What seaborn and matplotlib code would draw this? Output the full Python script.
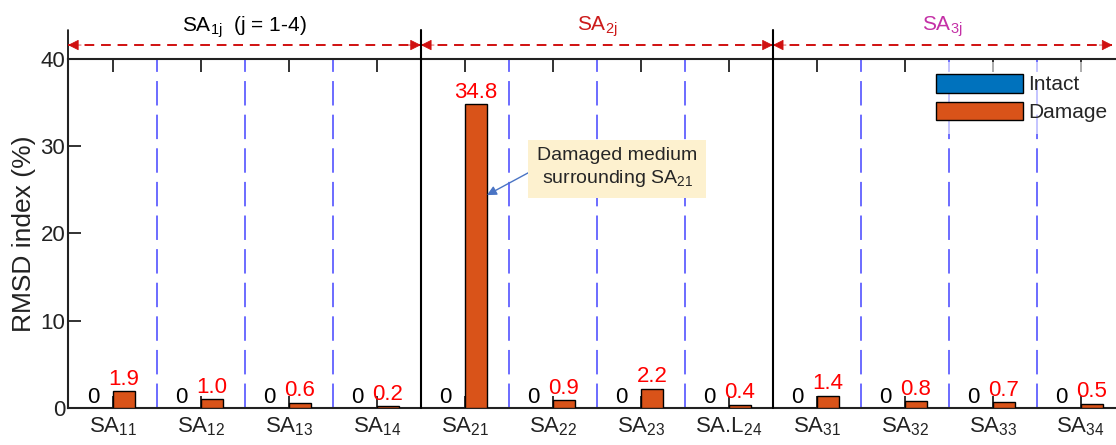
import numpy as np
import pandas as pd
import matplotlib
matplotlib.use("Agg")
import matplotlib.pyplot as plt
import matplotlib.transforms as mtransforms
import seaborn as sns

# ---- data ----
sensors = ["SA11", "SA12", "SA13", "SA14", "SA21", "SA22", "SA23", "SA.L24",
           "SA31", "SA32", "SA33", "SA34"]
tick_labels = [r"SA$_{11}$", r"SA$_{12}$", r"SA$_{13}$", r"SA$_{14}$",
               r"SA$_{21}$", r"SA$_{22}$", r"SA$_{23}$", r"SA.L$_{24}$",
               r"SA$_{31}$", r"SA$_{32}$", r"SA$_{33}$", r"SA$_{34}$"]
intact = [0, 0, 0, 0, 0, 0, 0, 0, 0, 0, 0, 0]
damage = [1.9, 1.0, 0.6, 0.2, 34.8, 0.9, 2.2, 0.4, 1.4, 0.8, 0.7, 0.5]
states = ["Intact", "Damage"]
group_titles = [r"SA$_{\rm 1j}$  (j = 1-4)", r"SA$_{\rm 2j}$", r"SA$_{\rm 3j}$"]
group_colors = ["black", "#cc1a1a", "#c430a6"]
group_sizes = [4, 4, 4]

df = pd.DataFrame({
    "sensor": sensors * 2,
    "state": [states[0]] * len(sensors) + [states[1]] * len(sensors),
    "value": intact + damage,
})

sns.set_theme(style="white")
plt.rcParams["font.family"] = ["Liberation Sans", "DejaVu Sans"]
plt.rcParams["mathtext.fontset"] = "custom"
plt.rcParams["mathtext.rm"] = "Liberation Sans"
plt.rcParams["mathtext.it"] = "Liberation Sans:italic"

fig = plt.figure(figsize=(11.16, 4.45), dpi=100)
ax = fig.add_axes([68 / 1116, 1 - 408 / 445, 1 - 68 / 1116, (408 - 59) / 445])

sns.barplot(data=df, x="sensor", y="value", hue="state", order=sensors,
            hue_order=states, palette=["#0072BD", "#D95319"], saturation=1,
            width=0.5, edgecolor="black", linewidth=1, ax=ax, zorder=3)

ax.set_xlim(-0.511, 11.40)
ax.set_ylim(0, 40)
ax.set_yticks([0, 10, 20, 30, 40])
ax.set_xticks(range(len(sensors)))
ax.set_xticklabels(tick_labels, fontsize=16)
ax.tick_params(axis="y", labelsize=16, direction="in", length=9, width=1.3,
               left=True, pad=2, colors="#222222")
ax.tick_params(axis="x", direction="in", length=9, width=1.3, top=True,
               bottom=True, pad=5, colors="#222222")
ax.set_xlabel("")
ax.set_ylabel("RMSD index (%)", fontsize=19, labelpad=3, color="#222222")
for s in ["left", "bottom", "top"]:
    ax.spines[s].set_linewidth(1.5)
    ax.spines[s].set_color("#222222")
ax.spines["right"].set_visible(False)

# value labels
zero_labels = ax.bar_label(ax.containers[0], labels=["0" for _ in intact],
                           fontsize=16, color="black", padding=0)
for t in zero_labels:
    t.xyann = (-6, 0)
ax.bar_label(ax.containers[1], fmt="%.1f", fontsize=16, color="#ff0000",
             padding=1)

# separators
n = len(sensors)
bounds = np.cumsum(group_sizes)[:-1] - 0.5
for k in range(n - 1):
    xb = k + 0.5
    if xb in bounds:
        ax.axvline(xb, ymin=0, ymax=1.083, color="black", lw=1.5,
                   clip_on=False, zorder=4)
    else:
        ax.axvline(xb, color="#4444ff", lw=1.1, ls=(0, (16, 6)), zorder=1)
ax.axvline(ax.get_xlim()[0], ymin=1.0, ymax=1.083, color="black", lw=1.2,
           clip_on=False)

# header arrows
trans = mtransforms.blended_transform_factory(ax.transData, ax.transAxes)
edges = [ax.get_xlim()[0]] + list(bounds) + [11.36]
ya = 1.040
for i in range(len(group_sizes)):
    a, b = edges[i], edges[i + 1]
    ax.plot([a, b], [ya, ya], transform=trans, color="#d01010", lw=1.4,
            ls=(0, (5, 3.5)), clip_on=False)
    for tip, tail in [(a, a + 0.15), (b, b - 0.15)]:
        ax.annotate("", xy=(tip, ya), xytext=(tail, ya), xycoords=trans,
                    textcoords=trans,
                    arrowprops=dict(arrowstyle="-|>", mutation_scale=17,
                                    color="#d01010", lw=0.5,
                                    shrinkA=0, shrinkB=0))
    ax.text((a + b) / 2, 1.092, group_titles[i], transform=trans,
            ha="center", va="center", fontsize=15, color=group_colors[i])

# annotation
imax = int(np.argmax(damage))
ax.annotate("Damaged medium\nsurrounding SA$_{21}$",
            xy=(imax + 0.25, 24.4), xytext=(imax + 1.73, 27.5),
            ha="center", va="center", fontsize=14,
            linespacing=1.25,
            bbox=dict(boxstyle="square,pad=0.45", fc="#fdf1cf", ec="none"),
            arrowprops=dict(arrowstyle="-|>", color="#4a74c4", lw=1,
                            mutation_scale=14, relpos=(0, 0.5),
                            shrinkA=0, shrinkB=0),
            zorder=6)

# legend
h, l = ax.get_legend_handles_labels()
ax.legend(h, l, loc="upper left", bbox_to_anchor=(0.807, 1.02),
          fontsize=15, handlelength=4.2, handleheight=1.0,
          handletextpad=0.25, labelspacing=0.35, borderpad=0.55,
          frameon=True, framealpha=0.6, facecolor="white",
          edgecolor="none", fancybox=False)

fig.savefig("out.png", dpi=100)
